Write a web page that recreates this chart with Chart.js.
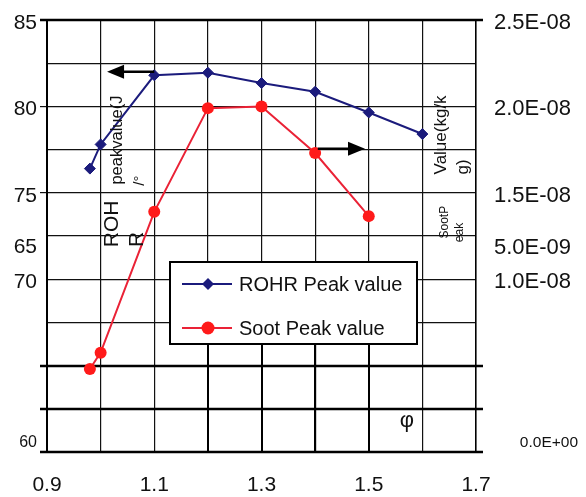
<!DOCTYPE html>
<html lang="en">
<head>
<meta charset="UTF-8">
<title>ROHR and soot peak value vs φ</title>
<script src="https://cdn.jsdelivr.net/npm/chart.js"></script>
<style>
  body { margin: 0; background: #fff; }
  #wrap { width: 586px; height: 497px; }
</style>
</head>
<body>
<div id="wrap"><canvas id="grafico" width="586" height="497"></canvas></div>
<script>
  // equivalence ratio and peak values
  const phiRohr = [0.98, 1.0, 1.1, 1.2, 1.3, 1.4, 1.5, 1.6];
  const rohrPeak = [76.4, 77.8, 81.8, 81.95, 81.35, 80.85, 79.65, 78.4];
  const phiSoot = [0.98, 1.0, 1.1, 1.2, 1.3, 1.4, 1.5];
  const sootPeak = [4.8e-9, 5.75e-9, 1.39e-8, 1.99e-8, 2.0e-8, 1.73e-8, 1.365e-8];
  const seriesNames = ['ROHR Peak value', 'Soot Peak value'];

  const xTickLabels = ['0.9', '1.1', '1.3', '1.5', '1.7'];
  // the scanned figure has some labels sitting off their grid line, keep them where they are
  const leftTickValues = [85, 80, 75, 72, 70, 60.7];
  const leftTickLabels = ['85', '80', '75', '65', '70', '60'];
  const rightTickValues = [2.5e-8, 2.0e-8, 1.5e-8, 1.2e-8, 1.0e-8, 0.07e-8];
  const rightTickLabels = ['2.5E-08', '2.0E-08', '1.5E-08', '5.0E-09', '1.0E-08', '0.0E+00'];

  // axis titles written inside the plot, in left-axis units
  const notes = [
    { text: 'ROH', x: 1.021, y: 73.2, size: 21, rot: true },
    { text: 'R', x: 1.068, y: 72.3, size: 21, rot: true },
    { text: 'peakvalue(J', x: 1.032, y: 78.05, size: 16.5, rot: true },
    { text: '/°', x: 1.073, y: 75.7, size: 15, rot: true },
    { text: 'Value(kg/k', x: 1.635, y: 78.35, size: 17, rot: true },
    { text: 'g)', x: 1.676, y: 76.5, size: 17, rot: true },
    { text: 'SootP', x: 1.642, y: 73.3, size: 12, rot: true },
    { text: 'eak', x: 1.67, y: 72.7, size: 12, rot: true },
    { text: 'φ', x: 1.571, y: 61.8, size: 22, rot: false }
  ];
  const arrows = [
    { from: [1.1, 82.0], to: [1.012, 82.0] },
    { from: [1.405, 77.55], to: [1.493, 77.55] }
  ];

  const fontFam = '"Liberation Sans", Arial, sans-serif';
  Chart.defaults.font.family = fontFam;
  Chart.defaults.color = '#111';

  const gridVals = [];
  for (let v = 60; v <= 85; v += 2.5) gridVals.push(v);

  function line(ctx, x0, y0, x1, y1) {
    ctx.beginPath();
    ctx.moveTo(x0, y0);
    ctx.lineTo(x1, y1);
    ctx.stroke();
  }

  const extras = {
    id: 'extras',
    beforeDatasetsDraw(chart) {
      const { ctx, chartArea: a, scales: { x, y } } = chart;
      ctx.save();
      ctx.strokeStyle = '#000';
      ctx.lineWidth = 2.5;
      [85, 65, 62.5, 60].forEach(v => {
        const py = Math.round(y.getPixelForValue(v));
        line(ctx, a.left - 7, py, a.right + 7, py);
      });
      // heavy verticals under the legend
      ctx.lineWidth = 2;
      const legBottom = a.top + 324;
      [1.2, 1.3, 1.4, 1.5].forEach(v => {
        const px = Math.round(x.getPixelForValue(v));
        line(ctx, px, legBottom, px, a.bottom);
      });
      ctx.restore();
    },
    afterDatasetsDraw(chart) {
      const { ctx, chartArea: a, scales: { x, y } } = chart;
      ctx.save();

      // legend box
      const lx = a.left + 123, ly = a.top + 242, lw = 247, lh = 82;
      ctx.fillStyle = '#fff';
      ctx.fillRect(lx, ly, lw, lh);
      ctx.strokeStyle = '#000';
      ctx.lineWidth = 2;
      ctx.strokeRect(lx, ly, lw, lh);
      chart.data.datasets.forEach((ds, i) => {
        const cy = ly + 22 + i * 44;
        ctx.strokeStyle = ds.borderColor;
        ctx.lineWidth = ds.borderWidth;
        line(ctx, lx + 12, cy, lx + 62, cy);
        ctx.fillStyle = ds.pointBackgroundColor;
        ctx.beginPath();
        const cx = lx + 38;
        if (ds.pointStyle === 'rectRot') {
          const r = 6;
          ctx.moveTo(cx, cy - r);
          ctx.lineTo(cx + r, cy);
          ctx.lineTo(cx, cy + r);
          ctx.lineTo(cx - r, cy);
          ctx.closePath();
        } else {
          ctx.arc(cx, cy, 6.5, 0, Math.PI * 2);
        }
        ctx.fill();
        ctx.fillStyle = '#111';
        ctx.font = '20px ' + fontFam;
        ctx.textBaseline = 'middle';
        ctx.fillText(ds.label, lx + 69, cy + 1);
      });

      // arrows pointing to each series' axis
      ctx.strokeStyle = '#000';
      ctx.fillStyle = '#000';
      arrows.forEach(ar => {
        const x0 = x.getPixelForValue(ar.from[0]), y0 = y.getPixelForValue(ar.from[1]);
        const x1 = x.getPixelForValue(ar.to[0]), y1 = y.getPixelForValue(ar.to[1]);
        const dir = Math.sign(x1 - x0);
        ctx.lineWidth = 2.5;
        line(ctx, x0, y0, x1 - dir * 12, y1);
        ctx.beginPath();
        ctx.moveTo(x1, y1);
        ctx.lineTo(x1 - dir * 17, y1 - 7);
        ctx.lineTo(x1 - dir * 17, y1 + 7);
        ctx.closePath();
        ctx.fill();
      });

      notes.forEach(n => {
        ctx.save();
        ctx.translate(x.getPixelForValue(n.x), y.getPixelForValue(n.y));
        if (n.rot) ctx.rotate(-Math.PI / 2);
        ctx.font = n.size + 'px ' + fontFam;
        ctx.fillStyle = '#111';
        ctx.textAlign = 'center';
        ctx.textBaseline = 'middle';
        ctx.fillText(n.text, 0, 0);
        ctx.restore();
      });
      ctx.restore();
    }
  };

  const ctx = document.getElementById('grafico').getContext('2d');
  const grafico = new Chart(ctx, {
    type: 'line',
    data: {
      datasets: [{
        label: seriesNames[0],
        data: phiRohr.map((p, i) => ({ x: p, y: rohrPeak[i] })),
        yAxisID: 'y',
        borderColor: '#1b1b7c',
        backgroundColor: '#1b1b7c',
        pointBackgroundColor: '#1b1b7c',
        pointBorderColor: '#1b1b7c',
        borderWidth: 2,
        pointStyle: 'rectRot',
        pointRadius: 5.5,
        pointBorderWidth: 1,
        tension: 0
      }, {
        label: seriesNames[1],
        data: phiSoot.map((p, i) => ({ x: p, y: sootPeak[i] })),
        yAxisID: 'y1',
        borderColor: '#ea2236',
        backgroundColor: '#ff1a1a',
        pointBackgroundColor: '#ff1a1a',
        pointBorderColor: '#ff1a1a',
        borderWidth: 2,
        pointStyle: 'circle',
        pointRadius: 6,
        pointBorderWidth: 0,
        tension: 0
      }]
    },
    options: {
      responsive: false,
      animation: false,
      layout: { padding: { top: 20 } },
      plugins: { legend: { display: false }, tooltip: { enabled: false } },
      scales: {
        x: {
          type: 'linear',
          min: 0.9,
          max: 1.7,
          grid: { color: '#111', lineWidth: 1.2, drawTicks: false },
          border: { display: false },
          ticks: {
            stepSize: 0.1,
            autoSkip: false,
            maxRotation: 0,
            padding: 21,
            font: { size: 21 },
            callback: v => {
              const s = Number(v).toFixed(1);
              return xTickLabels.includes(s) ? s : '';
            }
          },
          afterFit: s => { s.height = 45; }
        },
        y: {
          position: 'left',
          min: 60,
          max: 85,
          afterBuildTicks: s => {
            const vals = gridVals.slice();
            leftTickValues.forEach(v => { if (!vals.includes(v)) vals.push(v); });
            s.ticks = vals.sort((a, b) => a - b).map(v => ({ value: v }));
          },
          grid: {
            lineWidth: 1.2,
            tickLength: 7,
            color: c => (c.tick && gridVals.includes(c.tick.value)) ? '#111' : 'rgba(0,0,0,0)',
            tickColor: c => (c.tick && [85, 80, 75].includes(c.tick.value)) ? '#111' : 'rgba(0,0,0,0)'
          },
          border: { display: true, color: '#000', width: 2 },
          ticks: {
            autoSkip: false,
            padding: 3,
            labelOffset: 3,
            font: c => ({ size: (c.tick && c.tick.value === 60.7) ? 16 : 21 }),
            callback: v => {
              const i = leftTickValues.indexOf(v);
              return i >= 0 ? leftTickLabels[i] : '';
            }
          },
          afterFit: s => { s.width = 47; s.paddingTop = 0; s.paddingBottom = 0; }
        },
        y1: {
          position: 'right',
          min: 0,
          max: 2.5e-8,
          afterBuildTicks: s => {
            s.ticks = rightTickValues.slice().sort((a, b) => a - b).map(v => ({ value: v }));
          },
          grid: { display: false },
          border: { display: true, color: '#000', width: 1.5 },
          ticks: {
            autoSkip: false,
            padding: 10,
            labelOffset: 3,
            font: c => ({ size: (c.tick && c.tick.value === 0.07e-8) ? 15.5 : 22 }),
            callback: v => {
              const i = rightTickValues.indexOf(v);
              if (i < 0) return '';
              // the zero label is set further right on the figure
              return i === 5 ? '      ' + rightTickLabels[i] : rightTickLabels[i];
            }
          },
          afterFit: s => { s.width = 110; s.paddingTop = 0; s.paddingBottom = 0; }
        }
      }
    },
    plugins: [extras]
  });
</script>
</body>
</html>
